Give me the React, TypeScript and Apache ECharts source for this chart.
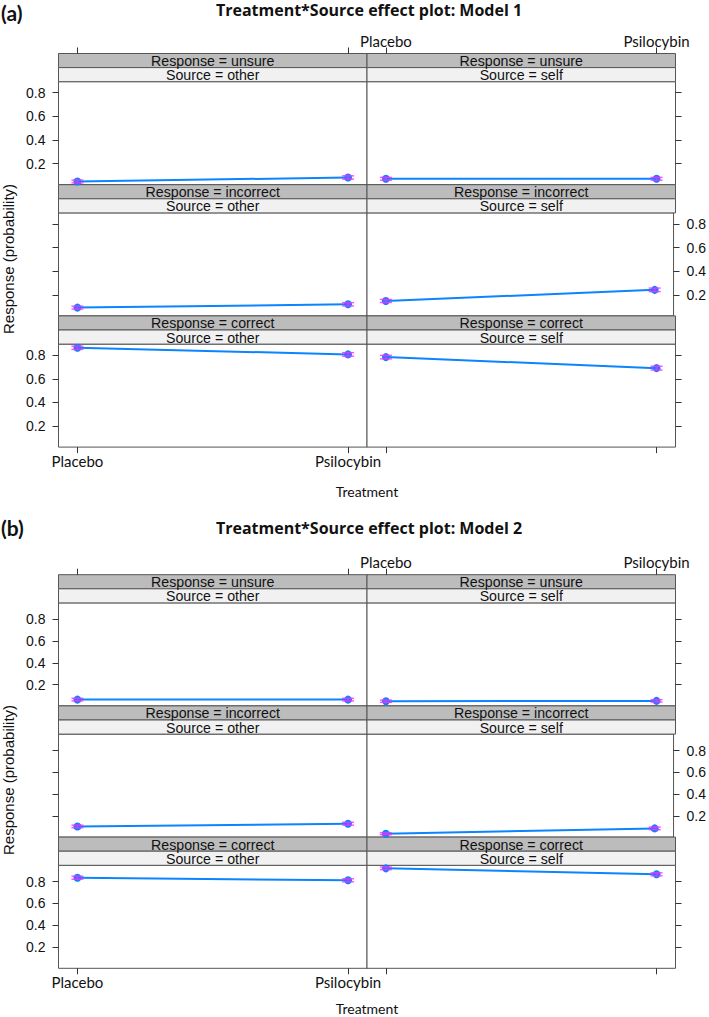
import React, { useEffect, useRef } from "react";
import * as echarts from "echarts";

// ---------- data ----------
const treatments = ["Placebo", "Psilocybin"];
const treatmentPos = [1, 2];
const responses = ["unsure", "incorrect", "correct"];
const sources = ["other", "self"];
const yTicks = [0.2, 0.4, 0.6, 0.8];
const modelTitles = ["Treatment*Source effect plot: Model 1", "Treatment*Source effect plot: Model 2"];
const panelTags = ["(a)", "(b)"];

// Model 1 fitted probabilities [Placebo, Psilocybin]
const m1UnsureOther = [0.05, 0.084];
const m1UnsureSelf = [0.073, 0.073];
const m1IncorrectOther = [0.093, 0.121];
const m1IncorrectSelf = [0.149, 0.243];
const m1CorrectOther = [0.862, 0.806];
const m1CorrectSelf = [0.783, 0.69];
// Model 1 confidence half-widths
const m1UnsureOtherErr = [0.012, 0.014];
const m1UnsureSelfErr = [0.012, 0.012];
const m1IncorrectOtherErr = [0.012, 0.014];
const m1IncorrectSelfErr = [0.013, 0.015];
const m1CorrectOtherErr = [0.014, 0.015];
const m1CorrectSelfErr = [0.015, 0.016];

// Model 2 fitted probabilities [Placebo, Psilocybin]
const m2UnsureOther = [0.062, 0.062];
const m2UnsureSelf = [0.047, 0.05];
const m2IncorrectOther = [0.102, 0.127];
const m2IncorrectSelf = [0.035, 0.084];
const m2CorrectOther = [0.837, 0.813];
const m2CorrectSelf = [0.923, 0.868];
// Model 2 confidence half-widths
const m2UnsureOtherErr = [0.012, 0.012];
const m2UnsureSelfErr = [0.01, 0.011];
const m2IncorrectOtherErr = [0.012, 0.013];
const m2IncorrectSelfErr = [0.009, 0.012];
const m2CorrectOtherErr = [0.014, 0.014];
const m2CorrectSelfErr = [0.012, 0.014];

// y-axis limits per model
const yLimits = [
  [0.023, 0.893],
  [0.004, 0.951],
];

const modelValues = [
  [
    [m1UnsureOther, m1UnsureSelf],
    [m1IncorrectOther, m1IncorrectSelf],
    [m1CorrectOther, m1CorrectSelf],
  ],
  [
    [m2UnsureOther, m2UnsureSelf],
    [m2IncorrectOther, m2IncorrectSelf],
    [m2CorrectOther, m2CorrectSelf],
  ],
];
const modelErrs = [
  [
    [m1UnsureOtherErr, m1UnsureSelfErr],
    [m1IncorrectOtherErr, m1IncorrectSelfErr],
    [m1CorrectOtherErr, m1CorrectSelfErr],
  ],
  [
    [m2UnsureOtherErr, m2UnsureSelfErr],
    [m2IncorrectOtherErr, m2IncorrectSelfErr],
    [m2CorrectOtherErr, m2CorrectSelfErr],
  ],
];

// ---------- layout ----------
const colLeft = [58.5, 367];
const colW = 308.5;
const panelTop = [53.5, 574.7];
const rowStep = 131.2;
const stripH = 28.2;
const plotH = 103;
const xMin = 0.93;
const xMax = 2.07;
const yLabelCenter = [259, 780];
const xNameY = [491, 1008];
const titleY = [9.5, 528];
const tagY = [12.5, 527];

const SANS = "'Liberation Sans', Arial, sans-serif";
const LATO = "Lato, 'Open Sans', sans-serif";
const LINE = "#0a84ff";
const ERR = "#ff2cff";

function buildOption() {
  const grid: any[] = [];
  const xAxis: any[] = [];
  const yAxis: any[] = [];
  const series: any[] = [];
  const graphic: any[] = [];

  for (let m = 0; m < 2; m++) {
    const [ymin, ymax] = yLimits[m];
    for (let r = 0; r < 3; r++) {
      for (let c = 0; c < 2; c++) {
        const g = grid.length;
        const rowTop = panelTop[m] + r * rowStep;
        grid.push({
          left: colLeft[c],
          top: rowTop + stripH,
          width: colW,
          height: plotH,
          show: true,
          borderColor: "#555",
          borderWidth: 1,
          backgroundColor: "#fff",
        });
        const showXLabel = (r === 0 && c === 1) || (r === 2 && c === 0);
        xAxis.push({
          gridIndex: g,
          type: "value",
          min: xMin,
          max: xMax,
          show: r !== 1,
          position: r === 0 ? "top" : "bottom",
          offset: r === 0 ? stripH : 0,
          axisLine: { show: false },
          splitLine: { show: false },
          axisTick: { show: true, length: 6, customValues: treatmentPos, lineStyle: { color: "#333" } },
          axisLabel: {
            show: showXLabel,
            customValues: treatmentPos,
            margin: r === 0 ? 5 : 6,
            fontFamily: LATO,
            fontSize: 15,
            color: "#111",
            formatter: (v: number) => treatments[treatmentPos.indexOf(Math.round(v))] || "",
          },
        });
        for (const side of ["left", "right"]) {
          const outer = side === "left" ? c === 0 : c === 1;
          const showLab = outer && (side === "left" ? r !== 1 : r === 1);
          yAxis.push({
            gridIndex: g,
            type: "value",
            min: ymin,
            max: ymax,
            position: side,
            show: outer,
            axisLine: { show: false },
            splitLine: { show: false },
            axisTick: { show: outer, length: 6, customValues: yTicks, lineStyle: { color: "#333" } },
            axisLabel: {
              show: showLab,
              customValues: yTicks,
              margin: 13,
              fontFamily: SANS,
              fontSize: 14,
              color: "#111",
              formatter: (v: number) => v.toFixed(1),
            },
          });
        }
        const vals = modelValues[m][r][c];
        const errs = modelErrs[m][r][c];
        series.push({
          type: "line",
          xAxisIndex: g,
          yAxisIndex: 2 * g,
          data: treatmentPos.map((x, i) => [x, vals[i]]),
          symbol: "circle",
          symbolSize: 8,
          lineStyle: { color: LINE, width: 2 },
          itemStyle: { color: LINE },
          z: 2,
        });
        series.push({
          type: "custom",
          xAxisIndex: g,
          yAxisIndex: 2 * g,
          z: 3,
          data: treatmentPos.map((x, i) => [x, vals[i] - errs[i], vals[i] + errs[i]]),
          encode: { x: 0, y: [1, 2] },
          renderItem: (params: any, api: any) => {
            const x = api.value(0);
            const a = api.coord([x, api.value(1)]);
            const b = api.coord([x, api.value(2)]);
            const hw = 6;
            const style = { stroke: ERR, lineWidth: 1.4, opacity: 0.85 };
            return {
              type: "group",
              children: [
                { type: "line", shape: { x1: a[0], y1: a[1], x2: b[0], y2: b[1] }, style },
                { type: "line", shape: { x1: a[0] - hw, y1: a[1], x2: a[0] + hw, y2: a[1] }, style },
                { type: "line", shape: { x1: b[0] - hw, y1: b[1], x2: b[0] + hw, y2: b[1] }, style },
              ],
            };
          },
        });
        // strips
        const half = stripH / 2;
        graphic.push({
          type: "rect",
          shape: { x: colLeft[c], y: rowTop, width: colW, height: half },
          style: { fill: "#bcbcbc", stroke: "#555", lineWidth: 1 },
        });
        graphic.push({
          type: "rect",
          shape: { x: colLeft[c], y: rowTop + half, width: colW, height: half },
          style: { fill: "#f1f1f1", stroke: "#555", lineWidth: 1 },
        });
        graphic.push({
          type: "text",
          x: colLeft[c] + colW / 2,
          y: rowTop + half / 2 + 0.5,
          style: {
            text: "Response = " + responses[r],
            align: "center",
            verticalAlign: "middle",
            fontFamily: SANS,
            fontSize: 14.2,
            fill: "#111",
          },
        });
        graphic.push({
          type: "text",
          x: colLeft[c] + colW / 2,
          y: rowTop + half + half / 2 + 0.5,
          style: {
            text: "Source = " + sources[c],
            align: "center",
            verticalAlign: "middle",
            fontFamily: SANS,
            fontSize: 14.2,
            fill: "#111",
          },
        });
      }
    }
    graphic.push({
      type: "text",
      x: 1,
      y: tagY[m],
      style: { text: panelTags[m], fontFamily: LATO, fontWeight: "bold", fontSize: 21, fill: "#111", verticalAlign: "middle" },
    });
    graphic.push({
      type: "text",
      x: 369,
      y: titleY[m],
      style: {
        text: modelTitles[m],
        align: "center",
        verticalAlign: "middle",
        fontFamily: "'Open Sans', Lato, sans-serif",
        fontWeight: "bold",
        fontSize: 16,
        fill: "#111",
      },
    });
    graphic.push({
      type: "text",
      x: 367,
      y: xNameY[m],
      style: { text: "Treatment", align: "center", verticalAlign: "middle", fontFamily: LATO, fontSize: 14, fill: "#111" },
    });
    graphic.push({
      type: "text",
      x: 8.5,
      y: yLabelCenter[m],
      rotation: Math.PI / 2,
      style: {
        text: "Response (probability)",
        align: "center",
        verticalAlign: "middle",
        fontFamily: SANS,
        fontSize: 15,
        fill: "#111",
      },
    });
  }

  return {
    animation: false,
    backgroundColor: "#fff",
    grid,
    xAxis,
    yAxis,
    series,
    graphic,
  };
}

export default function App() {
  const ref = useRef<HTMLDivElement>(null);
  useEffect(() => {
    if (!ref.current) return;
    const chart = echarts.init(ref.current, null, { renderer: "svg" });
    chart.setOption(buildOption() as any);
    return () => chart.dispose();
  }, []);
  return (
    <div
      ref={ref}
      style={{ position: "absolute", left: 0, top: 0, width: 709, height: 1017, background: "#fff" }}
    />
  );
}
